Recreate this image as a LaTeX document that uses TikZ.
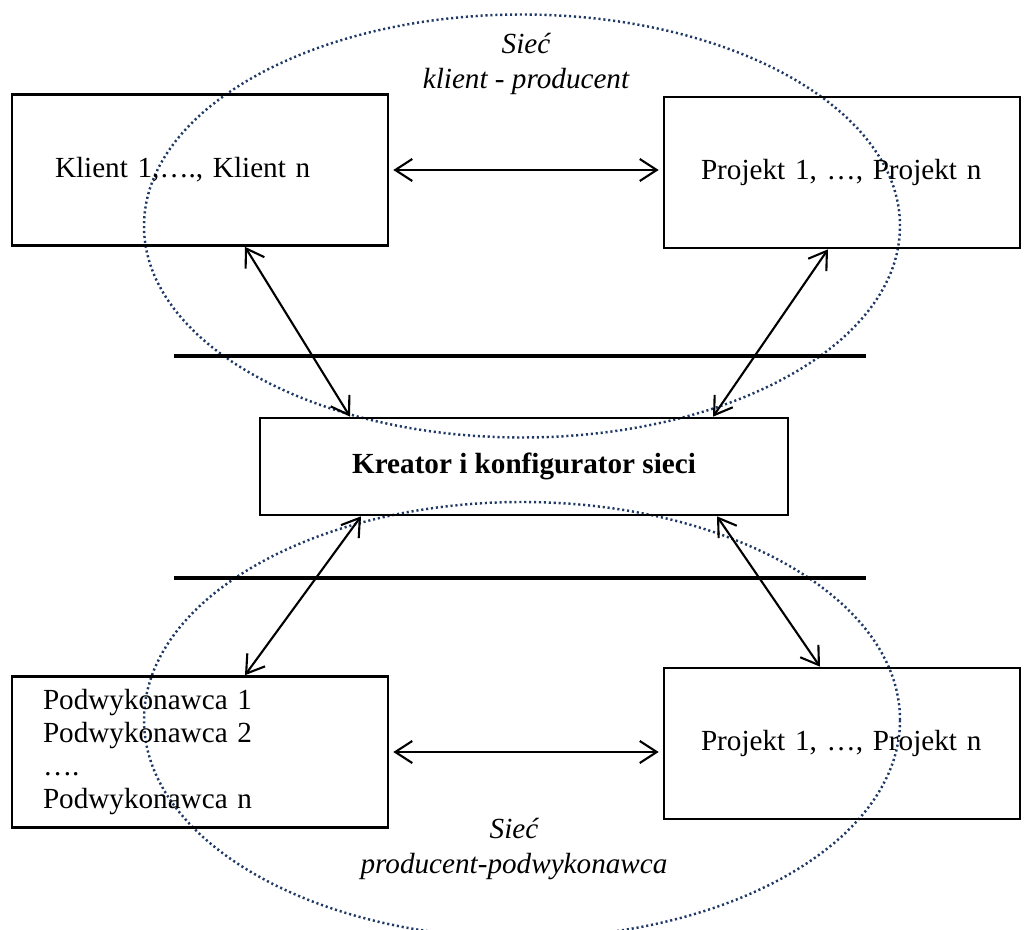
\documentclass[tikz,border=0pt]{standalone}
\usepackage{fontspec}
\setmainfont{Liberation Serif}
\usepackage{tikz}
\usetikzlibrary{arrows.meta,calc}
\definecolor{siecblue}{RGB}{31,56,100}

\tikzset{
  blok/.style={draw, line width=0.75pt, minimum height=1.51cm, inner ysep=2pt, align=left},
  strz/.style={line width=0.6pt, {Straight Barb[length=1.7mm,width=2.2mm]}-{Straight Barb[length=1.7mm,width=2.2mm]}},
  siec/.style={draw=siecblue, line width=0.7pt, dash pattern=on 0.6pt off 0.8pt},
  kreska/.style={line width=1.15pt},
}

\begin{document}
\begin{tikzpicture}[font=\fontsize{8.3}{9.4}\selectfont]
\useasboundingbox (0,0) rectangle (10.28,9.29);

% sieci
\draw[siec] (5.22,7.03) ellipse [x radius=3.78, y radius=2.115];
\draw[siec] (5.22,2.09) ellipse [x radius=3.78, y radius=2.18];
\node[align=center, font=\fontsize{8.3}{9.7}\selectfont\itshape] (siecA) at (5.26,8.65) {Sieć\\klient - producent};
\node[align=center, font=\fontsize{8.3}{9.7}\selectfont\itshape] (siecB) at (5.14,0.80) {Sieć\\producent-podwykonawca};

% bloki
\node[blok, inner xsep=0.43cm, text width=2.90cm] (klient) at (2.00,7.59) {Klient 1,…., Klient n};
\node[blok, inner xsep=0.37cm, text width=2.82cm] (projA) at (8.42,7.565) {Projekt 1, …, Projekt n};
\node[draw, line width=0.75pt, minimum width=5.28cm, minimum height=0.97cm,
      font=\fontsize{8.3}{9.4}\selectfont\bfseries] (kreator) at (5.24,4.625) {Kreator i konfigurator sieci};
\node[blok, inner xsep=0.31cm, text width=3.14cm] (podw) at (2.00,1.77) {Podwykonawca 1\\Podwykonawca 2\\….\\Podwykonawca n};
\node[blok, inner xsep=0.37cm, text width=2.82cm] (projB) at (8.42,1.855) {Projekt 1, …, Projekt n};

% kreski
\draw[kreska] (1.74,5.73) -- (8.66,5.73);
\draw[kreska] (1.74,3.51) -- (8.66,3.51);

% strzalki
\draw[strz, shorten <=0.4mm, shorten >=0.4mm] (klient.east) -- (klient.east -| projA.west);
\draw[strz, shorten <=0.4mm, shorten >=0.4mm] (podw.east) -- (podw.east -| projB.west);
\draw[strz] ([xshift=0.45cm]klient.south) -- ([xshift=-1.74cm]kreator.north);
\draw[strz] ([xshift=-0.14cm]projA.south) -- ([xshift=1.89cm]kreator.north);
\draw[strz] ([xshift=-1.63cm]kreator.south) -- ([xshift=0.45cm]podw.north);
\draw[strz] ([xshift=1.93cm]kreator.south) -- ([xshift=-0.22cm]projB.north);
\end{tikzpicture}
\end{document}
